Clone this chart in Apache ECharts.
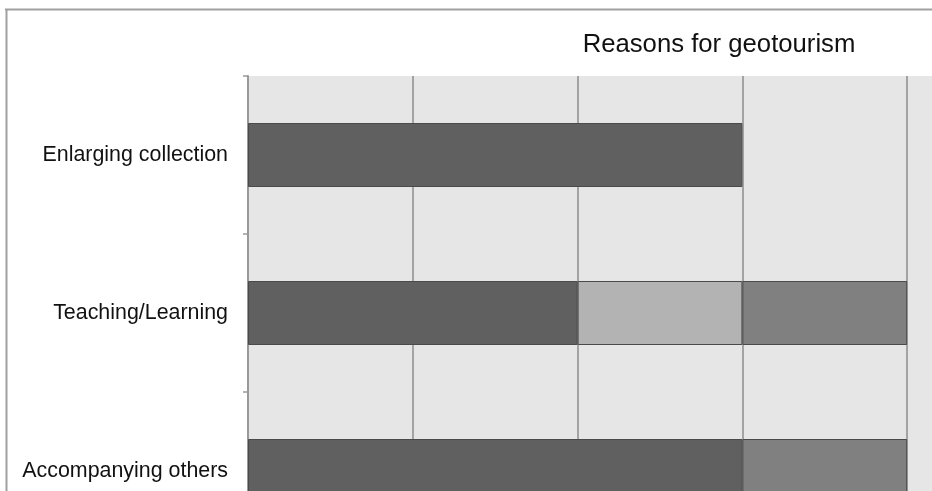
<!DOCTYPE html>
<html>
<head>
<meta charset="utf-8">
<script src="https://cdn.jsdelivr.net/npm/echarts@6/dist/echarts.min.js"></script>
<style>
html,body{margin:0;padding:0;background:#fff;}
#chart{width:932px;height:491px;}
</style>
</head>
<body>
<div id="chart"></div>
<script>
var categories = ['Enlarging collection', 'Teaching/Learning', 'Accompanying others'];
var seriesNames = ['Series A', 'Series B', 'Series C'];
var darkValues = [3, 2, 3];
var lightValues = [0, 1, 0];
var mediumValues = [0, 1, 1];
var xTicks = [0, 1, 2, 3, 4, 5];

var FONT = '"Liberation Sans", Arial, sans-serif';
function clean(arr){ return arr.map(function(v){ return v === 0 ? '-' : v; }); }

var chart = echarts.init(document.getElementById('chart'));
var barStyle = function(color){
  return { color: color, borderColor: '#4a4a4a', borderWidth: 1 };
};
chart.setOption({
  animation: false,
  backgroundColor: '#ffffff',
  title: {
    text: 'Reasons for geotourism',
    left: 714, top: 27, textAlign: 'center',
    textStyle: { fontFamily: FONT, fontSize: 25.7, fontWeight: 'normal', color: '#111' }
  },
  graphic: [
    { type: 'line', shape: { x1: 5, y1: 9.5, x2: 932, y2: 9.5 }, style: { stroke: '#a0a0a0', lineWidth: 2 }, z: 100 },
    { type: 'line', shape: { x1: 6.5, y1: 9, x2: 6.5, y2: 491 }, style: { stroke: '#a0a0a0', lineWidth: 2 }, z: 100 }
  ],
  grid: {
    left: 248, top: 76, width: 824, height: 474,
    outerBoundsMode: 'none',
    show: true, backgroundColor: '#e6e6e6', borderWidth: 0, containLabel: false
  },
  xAxis: {
    type: 'value', min: xTicks[0], max: xTicks[xTicks.length - 1], interval: 1,
    axisLabel: { show: false }, axisLine: { show: false }, axisTick: { show: false },
    splitLine: { show: true, lineStyle: { color: '#8c8c8c', width: 1.5 } }
  },
  yAxis: {
    type: 'category', data: categories, inverse: true,
    axisLine: { show: true, lineStyle: { color: '#999999', width: 2 } },
    axisTick: { show: true, length: 5, inside: false, lineStyle: { color: '#999999', width: 1.5 } },
    axisLabel: { margin: 20, fontFamily: FONT, fontSize: 21.4, color: '#111' },
    splitLine: { show: false }
  },
  series: [
    { name: seriesNames[0], type: 'bar', stack: 'a', data: clean(darkValues), barWidth: 64, itemStyle: barStyle('#606060') },
    { name: seriesNames[1], type: 'bar', stack: 'a', data: clean(lightValues), barWidth: 64, itemStyle: barStyle('#b3b3b3') },
    { name: seriesNames[2], type: 'bar', stack: 'a', data: clean(mediumValues), barWidth: 64, itemStyle: barStyle('#808080') }
  ]
});
</script>
</body>
</html>
